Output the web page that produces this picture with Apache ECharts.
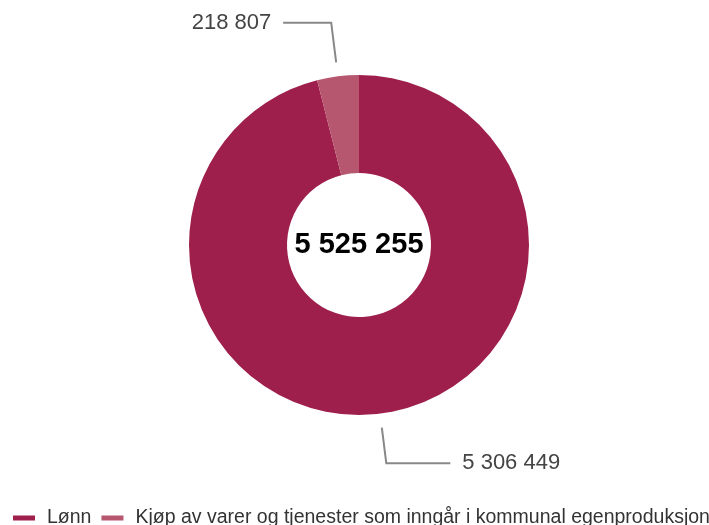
<!DOCTYPE html>
<html><head><meta charset="utf-8">
<script src="https://cdn.jsdelivr.net/npm/echarts@6/dist/echarts.min.js"></script>
<style>html,body{margin:0;padding:0;background:#fff}#c{width:709px;height:525px}</style>
</head><body><div id="c"></div>
<script>
const categories = ['Lønn', 'Kjøp av varer og tjenester som inngår i kommunal egenproduksjon'];
const values = [5306449, 218807];
const totalValue = 5525255;
const colors = ['#9e1f4b', '#b6566f'];

function fmt(n){ return String(n).replace(/\B(?=(\d{3})+(?!\d))/g, ' '); }

const chart = echarts.init(document.getElementById('c'));
chart.setOption({
  animation: false,
  legend: {
    data: categories,
    left: 13, top: 508, width: 1200, padding: 0,
    icon: 'rect', itemWidth: 22, itemHeight: 5, itemGap: 10,
    textStyle: { fontFamily: 'Liberation Sans', fontSize: 19.5, color: '#333', padding: [0, 0, 0, 7] }
  },
  graphic: [{
    type: 'text', x: 359, y: 245,
    style: { text: fmt(totalValue), textAlign: 'center', textVerticalAlign: 'middle',
      font: 'bold 29px "Liberation Sans"', fill: '#000' }
  }],
  series: [{
    type: 'pie',
    center: [359, 245],
    radius: [72, 170],
    startAngle: 90,
    clockwise: true,
    avoidLabelOverlap: false,
    label: {
      show: true,
      formatter: p => fmt(p.value),
      fontFamily: 'Liberation Sans', fontSize: 22, color: '#444',
      distanceToLabelLine: 12
    },
    labelLine: { show: true, length: 50, length2: 55, lineStyle: { color: '#888', width: 2 } },
    labelLayout: function (params) {
      const p = params.labelLinePoints;
      if (!p) return {};
      const dx = p[1][0] - p[0][0], dy = p[1][1] - p[0][1];
      const d = Math.sqrt(dx*dx + dy*dy);
      const gap = 14;
      const np = [[p[0][0] + dx/d*gap, p[0][1] + dy/d*gap], p[1], p[2]];
      return { labelLinePoints: np };
    },
    emphasis: { disabled: true },
    data: categories.map((c, i) => ({
      name: c, value: values[i],
      itemStyle: { color: colors[i] },
      labelLine: i === 0 ? { length: 50, length2: 64 } : { length: 54, length2: 48 }
    }))
  }]
});
</script></body></html>
